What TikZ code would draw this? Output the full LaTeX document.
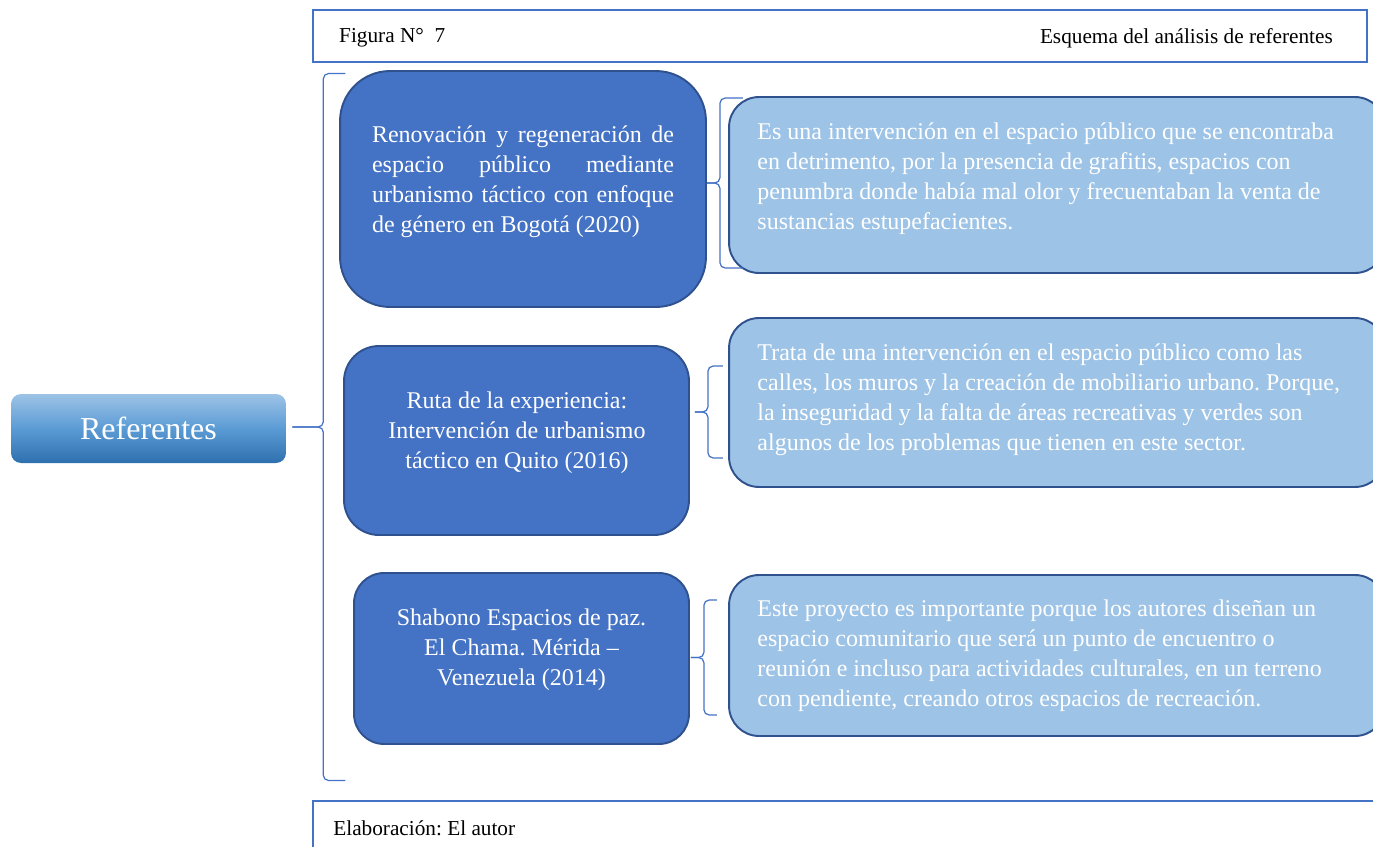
\documentclass[tikz,border=0pt]{standalone}
\usepackage{fontspec}
\setmainfont{Liberation Serif}
\usetikzlibrary{calc}
\frenchspacing

\definecolor{frameblue}{HTML}{4472C4}
\definecolor{edgeblue}{HTML}{2F528F}
\definecolor{darkfill}{HTML}{4472C4}
\definecolor{lightfill}{HTML}{9DC3E6}
\definecolor{shadetop}{HTML}{9DC3E6}
\definecolor{shademid}{HTML}{5B9BD5}
\definecolor{shadebot}{HTML}{2E70AE}

% curly bracket: #1 tip, #2 spine offset, #3 half height, #4 arm length
\newcommand{\curly}[4]{%
    \draw[brcline] ($(#1)+({#2+#4},{-#3})$) -| ($(#1)+(#2,0)$) -- (#1);
    \draw[brcline] (#1) -- ($(#1)+(#2,0)$) |- ($(#1)+({#2+#4},{#3})$);}

\begin{document}
\begin{tikzpicture}[x=0.02cm, y=-0.02cm,
    frame/.style={draw=frameblue, line width=1.4pt},
    darkbox/.style={draw=edgeblue, line width=1.1pt, fill=darkfill},
    lightbox/.style={draw=edgeblue, line width=1.1pt, fill=lightfill},
    boxtext/.style={text=white, inner sep=0pt, font=\fontsize{13.66}{17.07}\selectfont},
    smalltext/.style={inner sep=0pt, font=\fontsize{12.1}{14.5}\selectfont},
    brcline/.style={draw=frameblue, line width=0.7pt, rounded corners=3pt}]
    \useasboundingbox (0,0) rectangle (1373,846);
    \clip (0,0) rectangle (1373,846);

    % header and footer
    \node[frame, minimum width=21.08cm, minimum height=1.04cm] (hdr) at (840,36) {};
    \node[smalltext, anchor=west] (fig) at ($(hdr.west)+(27,2)$) {Figura N°\ \ 7};
    \node[smalltext, anchor=east] (tit) at ($(hdr.east)+(-35,2)$) {Esquema del análisis de referentes};
    \node[frame, minimum width=21.74cm, minimum height=1.78cm] (ftr) at (856.5,845.5) {};
    \node[smalltext, anchor=west] (src) at (333,828) {Elaboración: El autor};

    % root
    \node[rounded corners=0.2cm, minimum width=5.5cm, minimum height=1.38cm,
          top color=shadetop, bottom color=shadebot, middle color=shademid,
          text=white, font=\fontsize{18.2}{20}\selectfont] (ref) at (148.5,428.5) {Referentes};

    % case studies
    \node[darkbox, rounded corners=1cm, minimum width=7.32cm, minimum height=4.72cm] (lb1) at (523,189) {};
    \node[darkbox, rounded corners=0.7cm, minimum width=6.9cm, minimum height=3.78cm] (lb2) at (516.5,440.5) {};
    \node[darkbox, rounded corners=0.6cm, minimum width=6.7cm, minimum height=3.42cm] (lb3) at (521.5,658.5) {};

    \node[boxtext, text width=6.04cm, align=justify] (lt1) at ($(lb1.center)+(0,-7)$)
        {Renovación y regeneración de\linebreak espacio público mediante\linebreak urbanismo táctico con enfoque\linebreak de género en Bogotá (2020)};
    \node[boxtext, align=center] (lt2) at ($(lb2.center)+(0.5,-8)$)
        {Ruta de la experiencia:\\Intervención de urbanismo\\táctico en Quito (2016)};
    \node[boxtext, align=center] (lt3) at ($(lb3.center)+(0,-9)$)
        {Shabono Espacios de paz.\\El Chama. Mérida –\\Venezuela (2014)};

    % descriptions
    \node[lightbox, rounded corners=0.6cm, minimum width=13.12cm, minimum height=3.52cm] (rb1) at (1057,185) {};
    \node[lightbox, rounded corners=0.6cm, minimum width=13.12cm, minimum height=3.38cm] (rb2) at (1057,402.5) {};
    \node[lightbox, rounded corners=0.6cm, minimum width=13.12cm, minimum height=3.22cm] (rb3) at (1057,655.5) {};

    \node[boxtext, anchor=west, align=left] (rt1) at ($(rb1.west)+(29,-6)$)
        {Es una intervención en el espacio público que se encontraba\\en detrimento, por la presencia de grafitis, espacios con\\penumbra donde había mal olor y frecuentaban la venta de\\sustancias estupefacientes.};
    \node[boxtext, anchor=west, align=left] (rt2) at ($(rb2.west)+(29,-2.5)$)
        {Trata de una intervención en el espacio público como las\\calles, los muros y la creación de mobiliario urbano. Porque,\\la inseguridad y la falta de áreas recreativas y verdes son\\algunos de los problemas que tienen en este sector.};
    \node[boxtext, anchor=west, align=left] (rt3) at ($(rb3.west)+(29,0.5)$)
        {Este proyecto es importante porque los autores diseñan un\\espacio comunitario que será un punto de encuentro o\\reunión e incluso para actividades culturales, en un terreno\\con pendiente, creando otros espacios de recreación.};

    % brackets
    \coordinate (tip0) at ($(ref.east)+(6,-1.5)$);
    \coordinate (tip1) at ($(lb1.east)+(0,-6)$);
    \coordinate (tip2) at ($(lb2.east)+(5,-28.5)$);
    \coordinate (tip3) at ($(lb3.east)+(1,-1)$);
    \curly{tip0}{31}{353.5}{22}
    \curly{tip1}{13}{85}{23}
    \curly{tip2}{13}{46}{15}
    \curly{tip3}{13}{57.5}{13}

\end{tikzpicture}
\end{document}
